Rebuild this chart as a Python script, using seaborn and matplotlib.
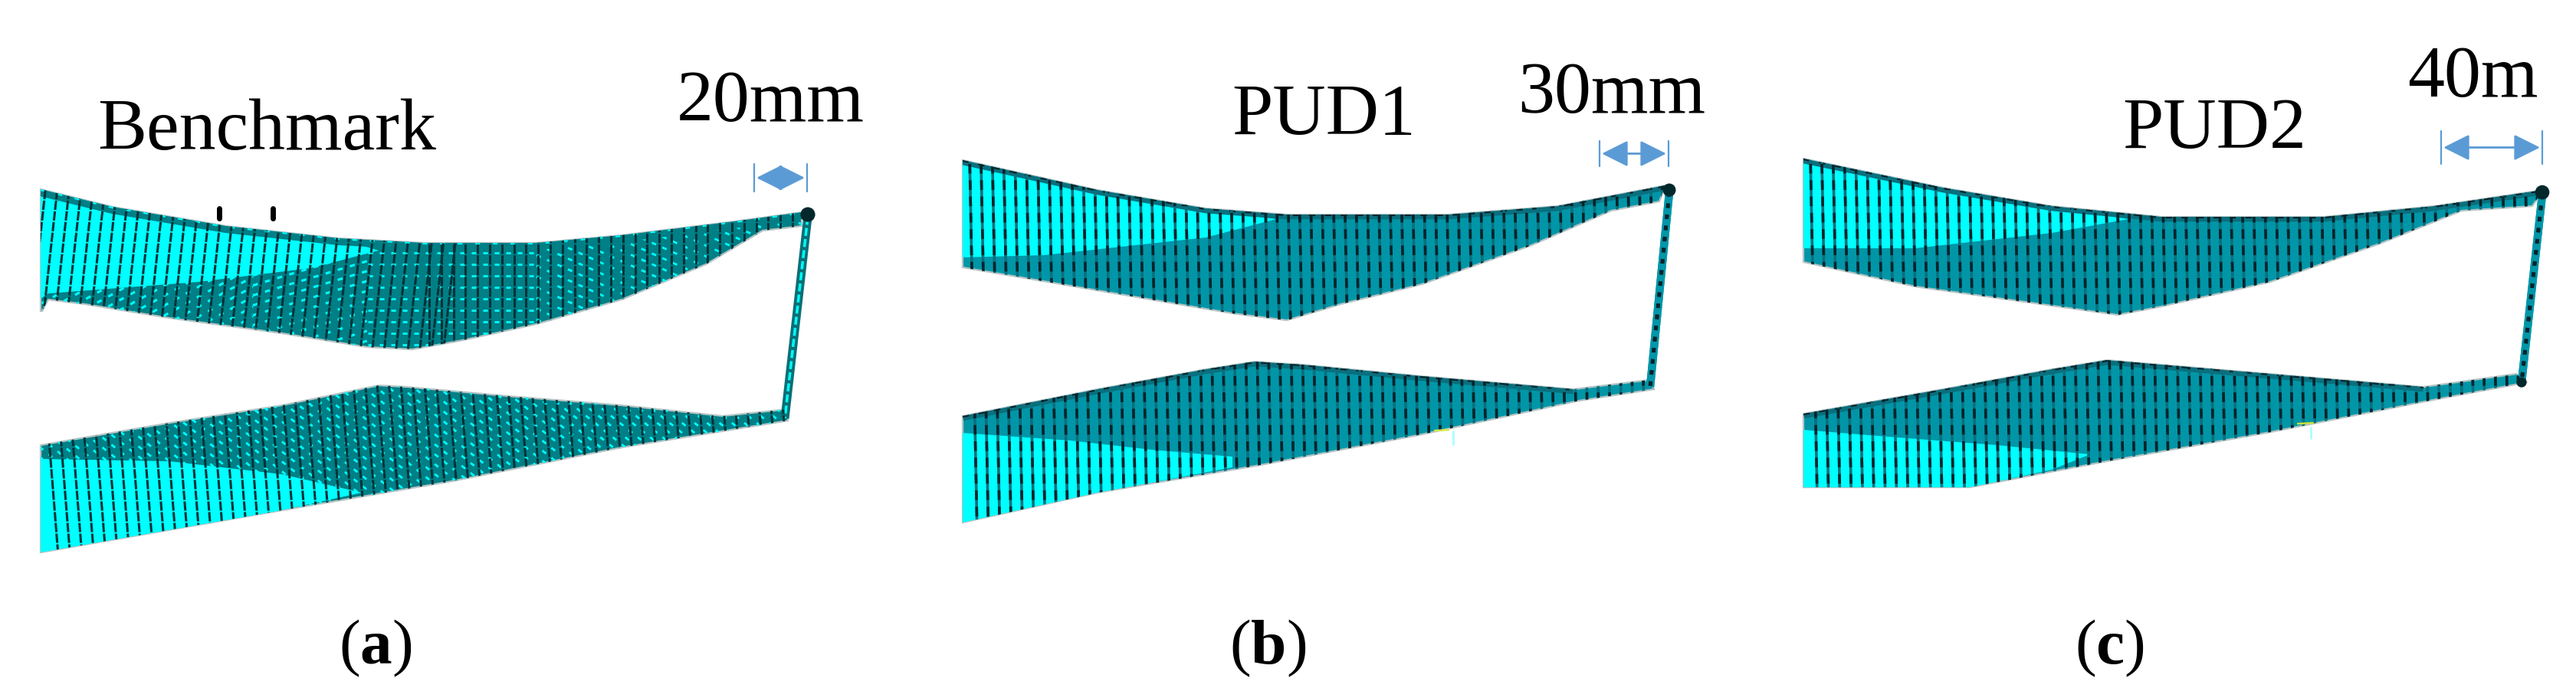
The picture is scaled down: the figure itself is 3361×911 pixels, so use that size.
import numpy as np
import pandas as pd
import matplotlib
matplotlib.use("Agg")
import matplotlib.pyplot as plt
import seaborn as sns
from matplotlib.collections import LineCollection
from matplotlib.patches import Polygon

# outlines, in image pixels (y goes down)
a_up_x = [53, 147, 295, 442, 553, 700, 811, 958, 1046, 1046, 995, 921, 811, 700, 604, 538, 479, 368, 221, 111, 63, 55, 53]
a_up_y = [247, 270, 295, 311, 317, 317, 307, 289, 277, 295, 301, 345, 391, 423, 444, 456, 453, 435, 415, 397, 391, 406, 406]
a_up_cyan_x = [53, 147, 295, 442, 494, 405, 258, 63, 53]
a_up_cyan_y = [247, 270, 295, 311, 327, 350, 368, 383, 390]
a_low_x = [53, 221, 368, 494, 531, 663, 811, 943, 1028, 1028, 811, 590, 368, 53]
a_low_y = [581, 552, 529, 503, 505, 517, 529, 543, 534, 549, 584, 628, 666, 721]
a_low_cyan_x = [53, 221, 368, 472, 339, 53]
a_low_cyan_y = [599, 602, 619, 643, 672, 721]
a_strut_x = [1054, 1024]
a_strut_y = [283, 546]

b_up_x = [1256, 1432, 1573, 1679, 1890, 2032, 2173, 2165, 2102, 1996, 1855, 1749, 1679, 1608, 1467, 1256]
b_up_y = [209, 248, 272, 280, 280, 269, 242, 263, 275, 321, 371, 397, 418, 409, 385, 349]
b_up_cyan_x = [1256, 1432, 1573, 1665, 1573, 1362, 1256]
b_up_cyan_y = [209, 248, 272, 286, 310, 333, 336]
b_low_x = [1256, 1432, 1573, 1637, 1700, 1855, 2053, 2151, 2158, 2060, 1855, 1644, 1432, 1256]
b_low_y = [543, 508, 482, 472, 476, 491, 508, 496, 508, 523, 567, 607, 643, 682]
b_low_cyan_x = [1256, 1397, 1503, 1608, 1608, 1432, 1256]
b_low_cyan_y = [565, 575, 587, 596, 610, 643, 682]
b_strut_x = [2178, 2153]
b_strut_y = [251, 505]

c_up_x = [2353, 2535, 2677, 2820, 3033, 3176, 3318, 3304, 3212, 3105, 2962, 2820, 2763, 2642, 2499, 2353]
c_up_y = [207, 245, 269, 283, 283, 269, 248, 269, 275, 318, 368, 400, 411, 394, 374, 342]
c_up_cyan_x = [2353, 2535, 2677, 2777, 2677, 2499, 2353]
c_up_cyan_y = [207, 245, 269, 286, 304, 324, 324]
c_low_x = [2353, 2535, 2677, 2749, 2820, 2962, 3162, 3283, 3297, 3169, 2962, 2749, 2570, 2353]
c_low_y = [540, 508, 482, 470, 476, 488, 505, 488, 499, 523, 564, 602, 636, 636]
c_low_cyan_x = [2353, 2464, 2606, 2727, 2677, 2570, 2353]
c_low_cyan_y = [561, 570, 581, 593, 613, 636, 636]
c_strut_x = [3317, 3290]
c_strut_y = [254, 499]

# dimension marks: left bar, right bar, top, bottom
dim_labels = ["20mm", "30mm", "40m"]
dim_left = [984, 2087, 3185]
dim_right = [1053, 2177, 3317]
dim_top = [214, 184, 171]
dim_bottom = [250, 217, 214]
dim_label_x = [1005, 2103, 3226]
dim_label_y = [135, 124, 103]

titles = ["Benchmark", "PUD1", "PUD2"]
title_x = [348, 1727, 2889]
title_y = [172, 153, 171]
captions = ["a", "b", "c"]
caption_x = [490, 1654, 2752]
caption_y = 846

CYAN = "#00ffff"
TEAL_A = "#007f86"
TEAL_B = "#0096a8"
DIM = "#5b9bd5"


def outline(ax, xs, ys, color, lw, clip=None, **kw):
    df = pd.DataFrame({"x": xs, "y": ys})
    sns.lineplot(data=df, x="x", y="y", sort=False, estimator=None, color=color,
                 linewidth=lw, legend=False, ax=ax, **kw)
    line = ax.lines[-1]
    line.set_solid_capstyle("butt")
    if clip is not None:
        line.set_clip_path(clip)
    return line


def columns(ax, clip, xlo, xhi, step, lean, color, lw, z, dash=None, top=150, bottom=760):
    segs = [[(x, top), (x + lean * (bottom - top), bottom)] for x in np.arange(xlo, xhi, step)]
    kw = {"linestyles": [(0, dash)]} if dash else {}
    lc = LineCollection(segs, colors=color, linewidths=lw, zorder=z, **kw)
    ax.add_collection(lc, autolim=False)
    lc.set_clip_path(clip)


def slashes(ax, clip, xlo, xhi, slope, gap, color, lw, z, dash=(2.2, 3.2)):
    half = (xhi - xlo) / 2
    segs = [[(xlo, y - slope * half), (xhi, y + slope * half)]
            for y in np.arange(-300, 1300, gap)]
    lc = LineCollection(segs, colors=color, linewidths=lw, zorder=z, linestyles=[(0, dash)])
    ax.add_collection(lc, autolim=False)
    lc.set_clip_path(clip)


def wedge(ax, xs, ys, cx, cy, teal):
    body = Polygon(np.column_stack([xs, ys]), closed=True, facecolor=teal,
                   edgecolor="#b7c4c4", linewidth=1.6, zorder=2)
    ax.add_patch(body)
    cyan = Polygon(np.column_stack([cx, cy]), closed=True, facecolor=CYAN,
                   edgecolor="none", zorder=3)
    ax.add_patch(cyan)
    cyan.set_clip_path(body)
    return body


sns.set_theme(style="white")
plt.rcParams["font.family"] = ["Liberation Serif", "DejaVu Sans"]
plt.rcParams["mathtext.fontset"] = "custom"
plt.rcParams["mathtext.rm"] = "Liberation Serif"
plt.rcParams["mathtext.bf"] = "Liberation Serif:bold"

fig = plt.figure(figsize=(33.61, 9.11), dpi=100, facecolor="white")
ax = fig.add_axes([0, 0, 1, 1])
ax.set_xlim(0, 3361)
ax.set_ylim(911, 0)

# (a): fine mesh, the cyan streaks come from the moire in the source
up = wedge(ax, a_up_x, a_up_y, a_up_cyan_x, a_up_cyan_y, TEAL_A)
low = wedge(ax, a_low_x, a_low_y, a_low_cyan_x, a_low_cyan_y, TEAL_A)
slashes(ax, up, 40, 330, -0.55, 13, CYAN, 2.2, 2.5)
slashes(ax, up, 330, 480, -0.3, 13, CYAN, 2.2, 2.5)
slashes(ax, up, 480, 700, 0.0, 15, CYAN, 2.0, 2.5)
slashes(ax, up, 700, 1060, 0.45, 14, CYAN, 2.0, 2.5)
slashes(ax, low, 40, 1040, 0.8, 13, CYAN, 2.0, 2.5)
columns(ax, up, 70, 620, 15.5, -0.11, "#023338", 2.2, 4, dash=(4, 0.6))
columns(ax, up, 560, 1050, 15.8, 0.0, "#023338", 2.2, 4, dash=(4, 0.6))
columns(ax, low, 30, 1030, 15.5, 0.08, "#023338", 2.2, 4, dash=(4, 0.6))
outline(ax, a_up_x[:9], a_up_y[:9], TEAL_A, 13, clip=up, zorder=3.5)
outline(ax, a_up_x[:9], a_up_y[:9], CYAN, 3, clip=up, zorder=3.6, dashes=(1.5, 4))
outline(ax, a_strut_x, a_strut_y, "#0a6f75", 8, zorder=3)
outline(ax, a_strut_x, a_strut_y, CYAN, 2.5, zorder=3.2, dashes=(3, 1.2))

# (b) and (c): same mesh with dark broken columns
for xs, ys, cx, cy, sx, sy, x0, x1 in [
    (b_up_x, b_up_y, b_up_cyan_x, b_up_cyan_y, b_strut_x, b_strut_y, 1256, 2180),
    (b_low_x, b_low_y, b_low_cyan_x, b_low_cyan_y, b_strut_x, b_strut_y, 1256, 2160),
    (c_up_x, c_up_y, c_up_cyan_x, c_up_cyan_y, c_strut_x, c_strut_y, 2353, 3320),
    (c_low_x, c_low_y, c_low_cyan_x, c_low_cyan_y, c_strut_x, c_strut_y, 2353, 3300),
]:
    body = wedge(ax, xs, ys, cx, cy, TEAL_B)
    columns(ax, body, x0 + 8, x1, 14.8, 0.02, "#0b6f7d", 2.6, 4)
    columns(ax, body, x0 + 8, x1, 14.8, 0.02, "#02232a", 2.6, 4.1, dash=(3.5, 2.4))
    outline(ax, xs[:7], ys[:7], "#0a6f7d", 9, clip=body, zorder=3.5)
    outline(ax, xs[:7], ys[:7], "#02232a", 3, clip=body, zorder=3.6, dashes=(2, 3))
    outline(ax, sx, sy, TEAL_B, 7.5, zorder=3)
    outline(ax, sx, sy, "#02232a", 3.5, zorder=3.2, dashes=(1.2, 1.8))

# hub dots at the top of each strut
hub_x = [a_strut_x[0], b_strut_x[0], c_strut_x[0], c_strut_x[1]]
hub_y = [a_strut_y[0] - 3, b_strut_y[0] - 3, c_strut_y[0] - 3, c_strut_y[1]]
hub_s = [190, 150, 180, 90]
sns.scatterplot(x=hub_x, y=hub_y, s=hub_s, color="#03282c", edgecolor="none", ax=ax,
                zorder=6, legend=False)

# little leftovers near the mesh
ax.plot([1896, 1896], [563, 580], color="#a8ffff", lw=2, zorder=1)
ax.plot([3015, 3015], [558, 572], color="#a8ffff", lw=2, zorder=1)
ax.plot([1872, 1890], [562, 561], color="#d6e84a", lw=1.8, zorder=5)
ax.plot([2998, 3018], [553, 552], color="#c8e03c", lw=1.8, zorder=5)
ax.plot([286, 286], [272, 285], color="black", lw=5, zorder=1)
ax.plot([356, 356], [272, 285], color="black", lw=5, zorder=1)

# dimension marks
for left, right, top, bottom in zip(dim_left, dim_right, dim_top, dim_bottom):
    mid = (top + bottom) / 2
    ax.plot([left, left], [top, bottom], color=DIM, lw=1.6)
    ax.plot([right, right], [top, bottom], color=DIM, lw=1.6)
    ax.annotate("", xy=(right - 3, mid), xytext=(left + 3, mid),
                arrowprops=dict(arrowstyle="<|-|>,head_length=21,head_width=10.5",
                                mutation_scale=1, color=DIM, lw=2, shrinkA=0, shrinkB=0))

for label, x, y in zip(dim_labels, dim_label_x, dim_label_y):
    ax.text(x, y, label, ha="center", va="center", fontsize=69, color="black")
for label, x, y in zip(titles, title_x, title_y):
    ax.text(x, y, label, ha="center", va="center", fontsize=69, color="black")
for label, x in zip(captions, caption_x):
    ax.text(x, caption_y, rf"$(\mathbf{{{label}}})$", ha="center", va="center",
            fontsize=60, color="black")

ax.axis("off")
fig.savefig("out.png", dpi=100, facecolor="white")
